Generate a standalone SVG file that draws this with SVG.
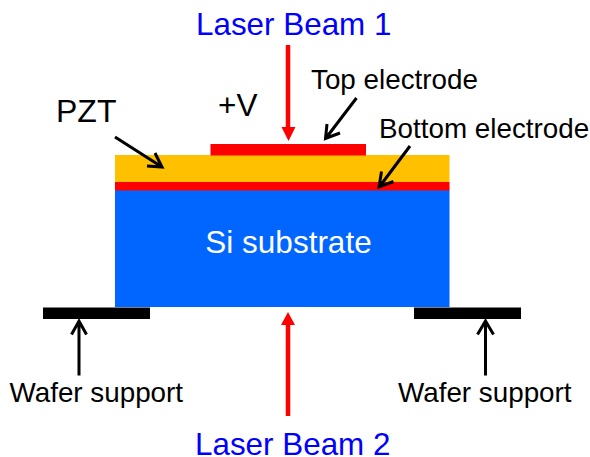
<svg xmlns="http://www.w3.org/2000/svg" width="590" height="457" viewBox="0 0 590 457">
<style>
text{font-family:"Liberation Sans",Arial,sans-serif;fill:#000}
.b{fill:#0000ff;font-size:31.4px}
.l{font-size:27.8px}
.k{stroke:#000;stroke-width:3;fill:none}
.r{stroke:#f00;stroke-width:4.5;fill:none}
</style>
<rect width="590" height="457" fill="#fff"/>
<g id="si-substrate"><rect x="115" y="190" width="334.500" height="117" fill="#0066ff"/><text x="288.500" y="253" text-anchor="middle" style="fill:#fff;font-size:31.500px">Si substrate</text></g>
<g id="bottom-electrode-layer"><rect x="115" y="182" width="334.500" height="8.500" fill="#f00"/></g>
<g id="pzt-layer"><rect x="115" y="155" width="334.500" height="27" fill="#ffc000"/></g>
<g id="top-electrode-layer"><rect x="210.500" y="144" width="155.500" height="11.500" fill="#f00"/></g>
<g id="support-left"><rect x="43" y="307.500" width="107" height="11.500" fill="#000"/></g>
<g id="support-right"><rect x="414" y="307.500" width="107" height="11.500" fill="#000"/></g>
<g id="labels">
<text class="b" x="196" y="35">Laser Beam 1</text>
<text class="b" x="195" y="455">Laser Beam 2</text>
<text class="l" x="311" y="89">Top electrode</text>
<text class="l" x="379" y="138">Bottom electrode</text>
<text x="218" y="116" style="font-size:31.500px">+V</text>
<text x="56" y="122" style="font-size:32px">PZT</text>
<text class="l" x="9.500" y="401.500">Wafer support</text>
<text class="l" x="398" y="401.500">Wafer support</text>
</g>
<g id="connectors">
<path class="r" d="M288 45V130"/><path d="M281.500 127H295.500L288.500 141Z" fill="#f00"/>
<path class="r" d="M288 416V322"/><path d="M281 325H295L288 312Z" fill="#f00"/>
<path class="k" d="M356.500 98L326 138M327 124L325.500 138.500L340 133"/>
<path class="k" d="M410 146L380 186M381.500 171.500L379 187L393.500 181.500"/>
<path class="k" d="M115 137L162 167M147 166L162 167L155 153"/>
<path class="k" d="M71.500 334.500L79 321L86.500 334.500M79 321V375.500"/>
<path class="k" d="M477.500 334.500L485.500 321L493.500 334.500M485.500 321V375.500"/>
</g>
</svg>
